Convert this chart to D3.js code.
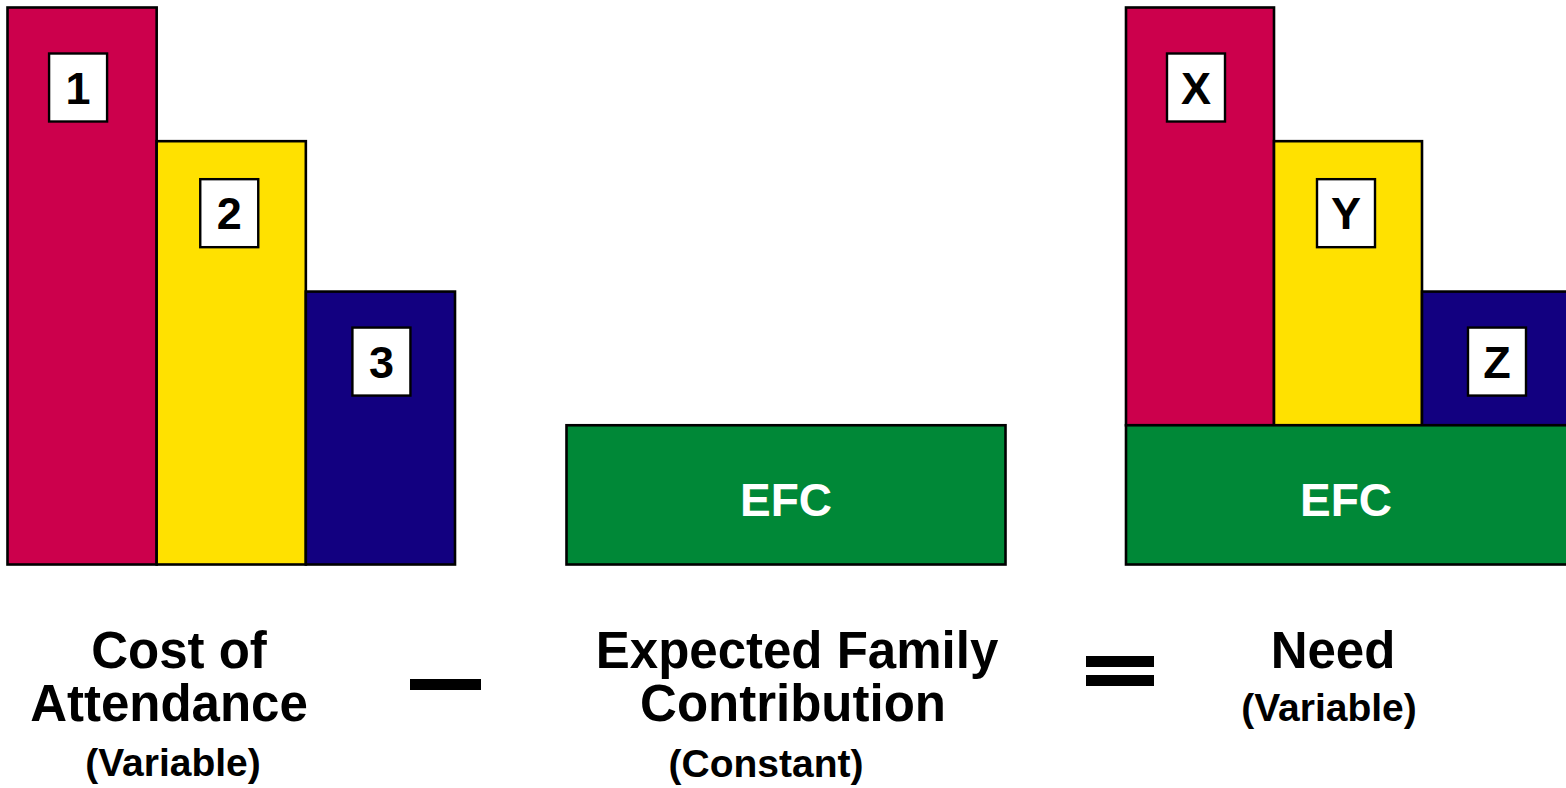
<!DOCTYPE html>
<html>
<head>
<meta charset="utf-8">
<script src="https://cdn.jsdelivr.net/npm/d3@7"></script>
<style>
  html, body { margin: 0; padding: 0; background: #fff; overflow: hidden; }
  svg { display: block; }
  text { font-family: "Liberation Sans", Arial, sans-serif; font-weight: bold; }
</style>
</head>
<body>
<svg id="chart" width="1566" height="788"></svg>
<script>
// ---- data ----
const costCategories = ["1", "2", "3"];
const costValues = [100, 76, 49];          // cost of attendance components
const efcValue = 25;                        // expected family contribution (constant)
const needCategories = ["X", "Y", "Z"];
const needValues = costValues.map(v => v - efcValue); // need = cost - EFC
const efcLabel = "EFC";
const colors = ["#CC004C", "#FFE100", "#120080"];
const efcColor = "#008837";

const captionCost = ["Cost of", "Attendance"];
const captionCostSub = "(Variable)";
const captionEfc = ["Expected Family", "Contribution"];
const captionEfcSub = "(Constant)";
const captionNeed = ["Need"];
const captionNeedSub = "(Variable)";

// ---- layout ----
const svg = d3.select("#chart");
const baseY = 564.5, topY = 7.5;
const y = d3.scaleLinear().domain([0, 100]).range([baseY, topY]);
const xCost = d3.scaleBand().domain(costCategories).range([7.5, 455]).padding(0);
const xEfc = d3.scaleLinear().domain([0, 1]).range([566.5, 1005.5]);
const xNeed = d3.scaleBand().domain(needCategories).range([1126, 1570]).padding(0);
const strokeW = 2.6;
const boxW = 58, boxH = 68;
const boxTopOffset = [46, 38, 36];
const boxDx = [-4, -2, 1];

function labelBox(g, cx, top, txt) {
  g.append("rect")
    .attr("x", cx - boxW / 2).attr("y", top)
    .attr("width", boxW).attr("height", boxH)
    .attr("fill", "#fff").attr("stroke", "#000").attr("stroke-width", 2.4);
  g.append("text")
    .attr("x", cx).attr("y", top + boxH / 2 + 16)
    .attr("text-anchor", "middle")
    .attr("font-size", 45).attr("fill", "#000")
    .text(txt);
}

// Cost of attendance bars
const gCost = svg.append("g");
costCategories.forEach((c, i) => {
  gCost.append("rect")
    .attr("x", xCost(c)).attr("y", y(costValues[i]))
    .attr("width", xCost.bandwidth()).attr("height", y(0) - y(costValues[i]))
    .attr("fill", colors[i]).attr("stroke", "#000").attr("stroke-width", strokeW);
});
costCategories.forEach((c, i) => {
  labelBox(gCost, xCost(c) + xCost.bandwidth() / 2 + boxDx[i], y(costValues[i]) + boxTopOffset[i], c);
});

// EFC (middle)
const gEfc = svg.append("g");
gEfc.append("rect")
  .attr("x", xEfc(0)).attr("y", y(efcValue))
  .attr("width", xEfc(1) - xEfc(0)).attr("height", y(0) - y(efcValue))
  .attr("fill", efcColor).attr("stroke", "#000").attr("stroke-width", strokeW);
gEfc.append("text")
  .attr("x", (xEfc(0) + xEfc(1)) / 2).attr("y", (y(efcValue) + y(0)) / 2 + 21)
  .attr("text-anchor", "middle").attr("font-size", 46).attr("fill", "#fff")
  .text(efcLabel);

// Need (stacked on EFC)
const gNeed = svg.append("g");
needCategories.forEach((c, i) => {
  gNeed.append("rect")
    .attr("x", xNeed(c)).attr("y", y(efcValue + needValues[i]))
    .attr("width", xNeed.bandwidth()).attr("height", y(efcValue) - y(efcValue + needValues[i]))
    .attr("fill", colors[i]).attr("stroke", "#000").attr("stroke-width", strokeW);
});
gNeed.append("rect")
  .attr("x", xNeed.range()[0]).attr("y", y(efcValue))
  .attr("width", xNeed.range()[1] - xNeed.range()[0]).attr("height", y(0) - y(efcValue))
  .attr("fill", efcColor).attr("stroke", "#000").attr("stroke-width", strokeW);
gNeed.append("text")
  .attr("x", 1346).attr("y", (y(efcValue) + y(0)) / 2 + 21)
  .attr("text-anchor", "middle").attr("font-size", 46).attr("fill", "#fff")
  .text(efcLabel);
needCategories.forEach((c, i) => {
  labelBox(gNeed, xNeed(c) + xNeed.bandwidth() / 2 + boxDx[i], y(efcValue + needValues[i]) + boxTopOffset[i], c);
});

// Captions
function caption(centers, lines, sub, subCx, subY) {
  lines.forEach((l, i) => {
    svg.append("text")
      .attr("x", centers[i]).attr("y", 668 + i * 53)
      .attr("text-anchor", "middle").attr("font-size", 51)
      .text(l);
  });
  svg.append("text")
    .attr("x", subCx).attr("y", subY)
    .attr("text-anchor", "middle").attr("font-size", 39)
    .text(sub);
}
caption([179, 169], captionCost, captionCostSub, 173, 776);
caption([797, 793], captionEfc, captionEfcSub, 766, 777);
caption([1333], captionNeed, captionNeedSub, 1329, 721);

// Operators
svg.append("rect").attr("x", 410).attr("y", 679).attr("width", 71).attr("height", 11).attr("fill", "#000");
svg.append("rect").attr("x", 1086).attr("y", 656).attr("width", 68).attr("height", 11).attr("fill", "#000");
svg.append("rect").attr("x", 1086).attr("y", 675).attr("width", 68).attr("height", 11).attr("fill", "#000");
</script>
</body>
</html>
